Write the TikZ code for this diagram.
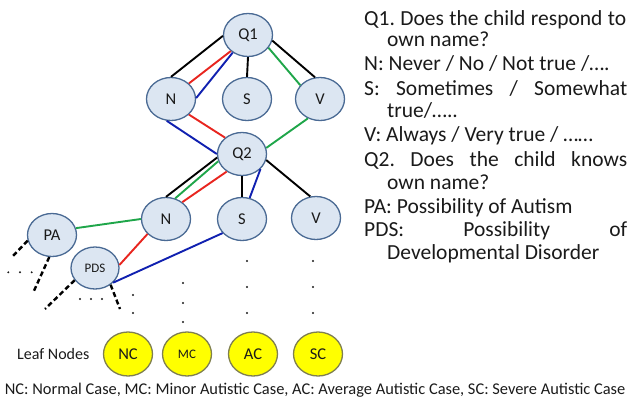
\documentclass[tikz,border=0pt]{standalone}
\usepackage{fontspec}
\setmainfont{Carlito}
\usetikzlibrary{shapes.geometric}
\definecolor{nfill}{HTML}{DCE6F2}
\definecolor{nbord}{HTML}{4A6A94}
\definecolor{lfill}{HTML}{FFFF00}
\definecolor{lbord}{HTML}{7F7F50}
\definecolor{ered}{HTML}{E8251F}
\definecolor{eblue}{HTML}{1020B0}
\definecolor{egreen}{HTML}{1FA64A}
\definecolor{txt}{HTML}{1A1A1A}
\newcommand{\fsz}[1]{\fontsize{#1}{#1}\selectfont}
\frenchspacing
\tikzset{
  qn/.style={ellipse, draw=nbord, fill=nfill, line width=1.3pt, minimum width=49pt, minimum height=43pt, inner sep=0pt, text=txt, font=\fsz{16.5}},
  smalllab/.style={font=\fsz{13}},
  leaf/.style={ellipse, draw=lbord, fill=lfill, line width=1.3pt, minimum width=49pt, minimum height=44pt, inner sep=0pt, text=txt, font=\fsz{16.5}},
  edge/.style={line width=1.9pt},
  dsh/.style={line width=2.4pt, dash pattern=on 5pt off 3pt},
  dotmark/.style={fill=txt, draw=none},
  rt/.style={anchor=base west, inner sep=0pt, text=txt, font=\fsz{21.5}},
}
\begin{document}
\begin{tikzpicture}[x=1pt, y=-1pt]
\useasboundingbox (0,0) rectangle (629,399);
% nodes
\node[qn] (Q1) at (248,35) {Q1};
\node[qn] (N1) at (171,99) {N};
\node[qn] (S1) at (247,99) {S};
\node[qn] (V1) at (320,99) {V};
\node[qn] (Q2) at (242,154) {Q2};
\node[qn] (N2) at (166,219) {N};
\node[qn] (S2) at (242,219) {S};
\node[qn] (V2) at (316,218) {V};
\node[qn] (PA) at (52,235) {PA};
\node[qn, smalllab, minimum width=48pt, minimum height=42pt] (PDS) at (95,268) {PDS};
\node[leaf] (NC) at (128,354) {NC};
\node[leaf, smalllab] (MC) at (187,354) {MC};
\node[leaf] (AC) at (253,354) {AC};
\node[leaf] (SC) at (318,354) {SC};
% edges Q1
\draw[edge, black] (Q1.182) -- (N1.90);
\draw[edge, ered] (Q1.223) -- (N1.41);
\draw[edge, eblue] (Q1.229) -- (N1.2);
\draw[edge, black] (Q1.270) -- (S1.90);
\draw[edge, black] (Q1.347) -- (V1.103);
\draw[edge, egreen] (Q1.328) -- (V1.145);
% to Q2
\draw[edge, ered] (N1.319) -- (Q2.136);
\draw[edge, eblue] (N1.259) -- (Q2.180);
\draw[edge, egreen] (V1.238) -- (Q2.14);
% from Q2
\draw[edge, black] (Q2.188) -- (N2.90);
\draw[edge, egreen] (Q2.197) -- (N2.66);
\draw[edge, ered] (Q2.229) -- (N2.46);
\draw[edge, black] (Q2.270) -- (S2.90);
\draw[edge, eblue] (Q2.321) -- (S2.70);
\draw[edge, black] (Q2.346) -- (V2.105);
% to PA / PDS
\draw[edge, egreen] (N2.180) -- (PA.16);
\draw[edge, ered] (N2.219) -- (PDS.7);
\draw[edge, eblue] (S2.216) -- (PDS.321);
% dashed continuations
\coordinate (pa1) at (12,257);
\coordinate (pa2) at (33,293);
\coordinate (pd1) at (45,309);
\coordinate (pd2) at (120,309);
\draw[dsh] (PA.193) -- (pa1);
\draw[dsh] (PA.263) -- (pa2);
\draw[dsh] (PDS.211) -- (pd1);
\draw[dsh] (PDS.313) -- (pd2);
% dots
\foreach \p in {(8.3,272.3),(20,272.3),(31.7,272.3),(80,299),(91,299),(102,299),(133,295),(133,313),(183,283),(183,303),(183,322),(247,261),(247,287),(247,313),(313,261),(313,287),(313,313)}
  \fill[dotmark] \p circle (1.1pt);
% labels
\node[anchor=base west, inner sep=0pt, text=txt, font=\fsz{16}] (leaflab) at (17,359) {Leaf Nodes};
\node[anchor=base, inner sep=0pt, text=txt, font=\fsz{16.4}] (caption) at (315,394) {NC: Normal Case, MC: Minor Autistic Case, AC: Average Autistic Case, SC: Severe Autistic Case};
% right text
\node[rt] (t1) at (364,25) {\makebox[262pt][s]{Q1. Does the child respond to}};
\node[rt] (t2) at (387,46) {own name?};
\node[rt] (t3) at (364,70) {N: Never / No / Not true /\dots.};
\node[rt] (t4) at (364,95) {\makebox[263pt][s]{S: Sometimes / Somewhat}};
\node[rt] (t5) at (387,117) {true/\dots..};
\node[rt] (t6) at (364,141) {V: Always / Very true / \dots\dots};
\node[rt] (t7) at (364,166) {\makebox[263pt][s]{Q2. Does the child knows}};
\node[rt] (t8) at (387,189) {own name?};
\node[rt] (t9) at (364,213) {PA: Possibility of Autism};
\node[rt] (t10) at (364,236) {\makebox[263pt][s]{PDS: Possibility of}};
\node[rt] (t11) at (387,259) {Developmental Disorder};
\end{tikzpicture}
\end{document}
